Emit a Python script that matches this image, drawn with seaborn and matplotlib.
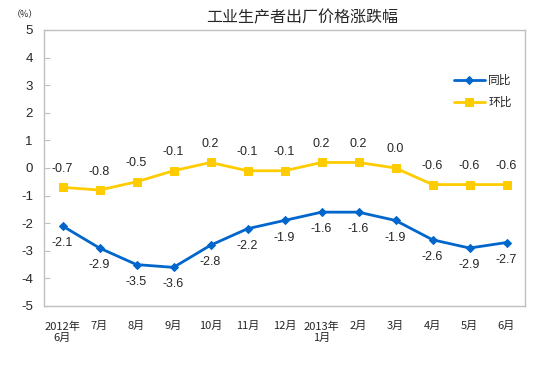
import numpy as np
import pandas as pd
import matplotlib
matplotlib.use("Agg")
import matplotlib.pyplot as plt
import seaborn as sns

# data
months = ["2012年\n6月", "7月", "8月", "9月", "10月", "11月", "12月",
          "2013年\n1月", "2月", "3月", "4月", "5月", "6月"]
yoy = [-2.1, -2.9, -3.5, -3.6, -2.8, -2.2, -1.9, -1.6, -1.6, -1.9, -2.6, -2.9, -2.7]
mom = [-0.7, -0.8, -0.5, -0.1, 0.2, -0.1, -0.1, 0.2, 0.2, 0.0, -0.6, -0.6, -0.6]
y_ticks = [5, 4, 3, 2, 1, 0, -1, -2, -3, -4, -5]

blue = "#0066CC"
yellow = "#FFCC00"
grey = "#BFBFBF"

sns.set_style("white")
plt.rcParams['font.family'] = ['Noto Sans CJK SC', 'DejaVu Sans']

df = pd.DataFrame({"month": months, "x": np.arange(len(months)),
                   "同比": yoy, "环比": mom})

fig = plt.figure(figsize=(5.54, 3.72), dpi=100)
ax = fig.add_axes([44 / 554, 1 - 306 / 372, 481 / 554, 276 / 372])

sns.lineplot(data=df, x="x", y="同比", ax=ax, color=blue, marker="D",
             markersize=4.5, markeredgecolor=blue, linewidth=2, label="同比")
sns.lineplot(data=df, x="x", y="环比", ax=ax, color=yellow, marker="s",
             markersize=5.5, markeredgecolor=yellow, linewidth=2, label="环比")

# data labels
for i, v in enumerate(yoy):
    ax.annotate(f"{v:.1f}", (i, v), xytext=(0, -8), textcoords="offset points",
                ha="center", va="top", fontsize=9, family="Liberation Sans")
for i, v in enumerate(mom):
    ax.annotate(f"{v:.1f}", (i, v), xytext=(0, 9), textcoords="offset points",
                ha="center", va="bottom", fontsize=9, family="Liberation Sans")

ax.set_xlim(-0.5, len(months) - 0.5)
ax.set_ylim(-5, 5)
ax.set_yticks(y_ticks)
ax.set_yticklabels([str(t) for t in y_ticks], family="Liberation Sans", fontsize=9.5)
ax.set_xticks(np.arange(len(months)))
ax.set_xticklabels(months, fontsize=8, linespacing=1.2)
ax.set_xticks(np.arange(len(months) - 1) + 0.5, minor=True)
ax.tick_params(axis="x", which="major", length=0, pad=11)
ax.tick_params(axis="x", which="minor", direction="in", length=4, color=grey)
ax.tick_params(axis="y", direction="in", length=4, color=grey, pad=8, left=True)
ax.set_xlabel("")
ax.set_ylabel("")
for s in ax.spines.values():
    s.set_color(grey)
    s.set_linewidth(1)

leg = ax.legend(loc="upper left", bbox_to_anchor=(0.83, 0.88), frameon=False,
                fontsize=8.5, handlelength=2.6, handletextpad=0.3, labelspacing=0.8)

fig.text(302 / 554, 1 - 18 / 372, "工业生产者出厂价格涨跌幅", ha="center",
         va="center", fontsize=11.5)
fig.text(25 / 554, 1 - 15 / 372, "（%）", ha="center", va="center", fontsize=6.5)

fig.savefig("out.png", dpi=100)
